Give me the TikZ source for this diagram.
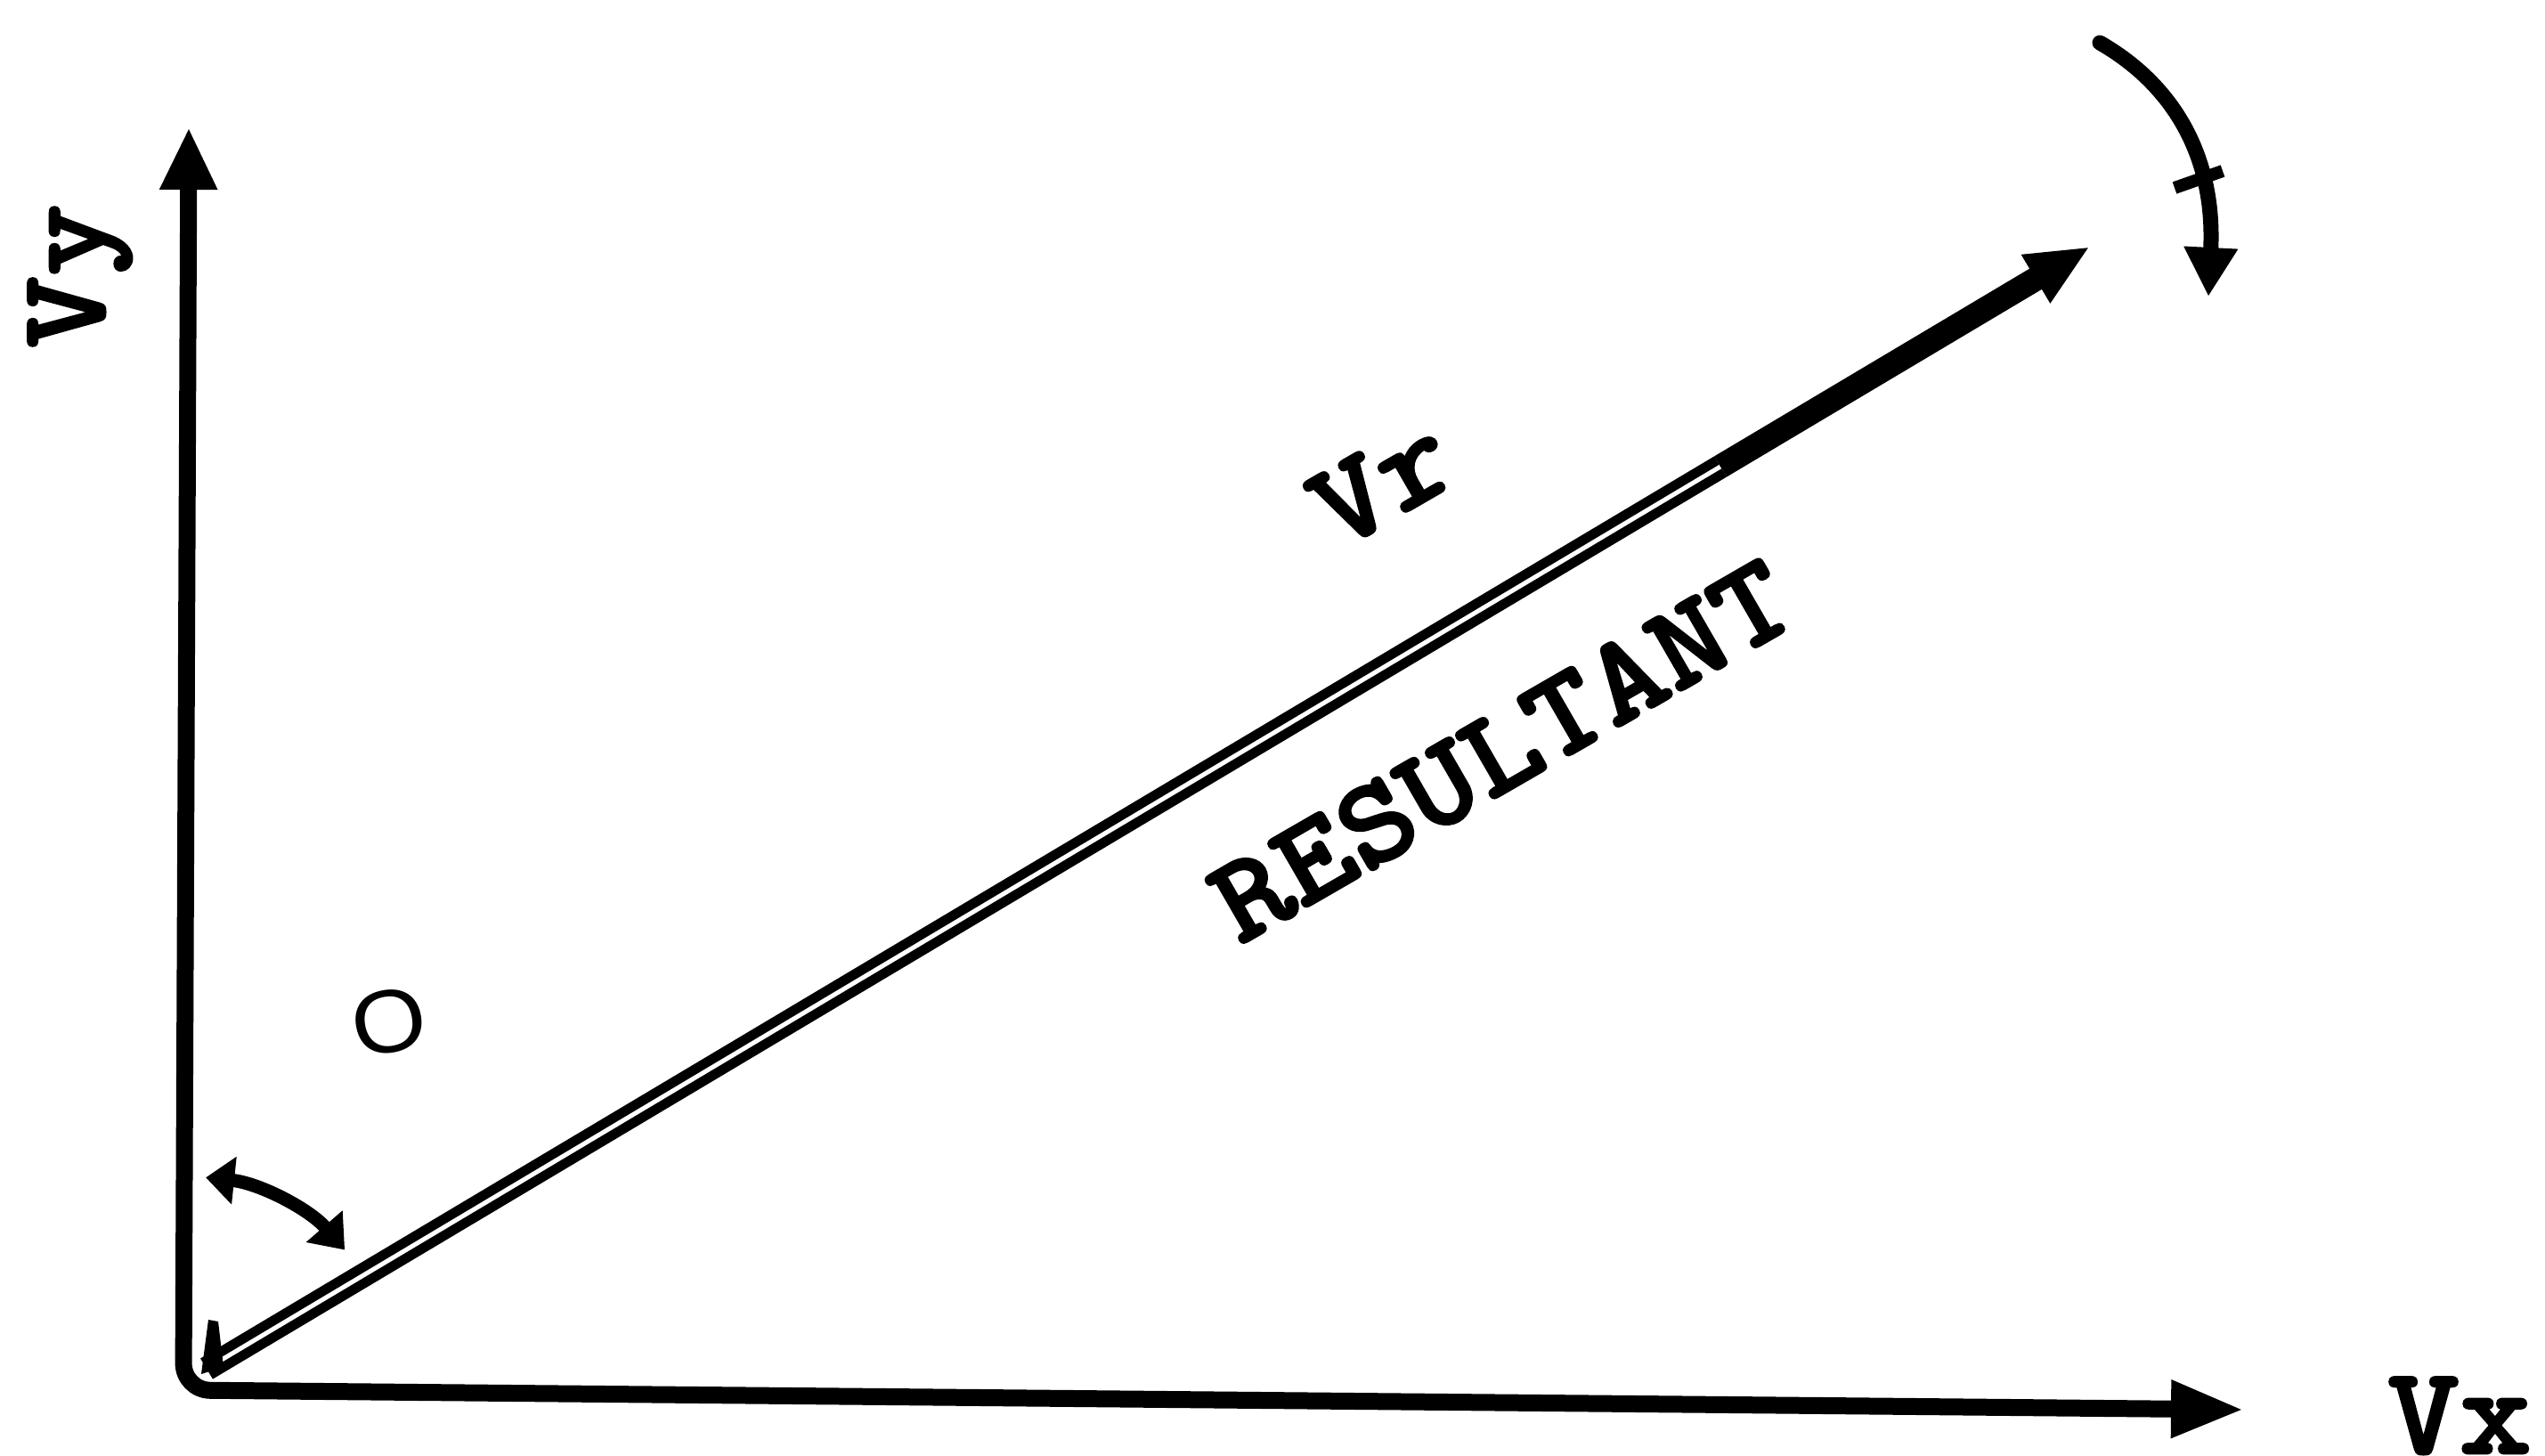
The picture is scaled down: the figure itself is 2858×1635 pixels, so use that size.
\documentclass[tikz,border=0pt]{standalone}
\usepackage{fontspec}
\newfontfamily\twfont{lmmonolt10-bold.otf}[FakeStretch=1.1, FakeBold=2]
\newfontfamily\thfont{Liberation Sans}[FakeStretch=1.08]
\usetikzlibrary{arrows.meta,calc}
\begin{document}
\begin{tikzpicture}[x=1pt,y=1pt,
  lbl/.style={font=\twfont\fontsize{140}{140}\selectfont, inner sep=0pt},
  axisline/.style={line width=19, rounded corners=30},
  thinarc/.style={line width=15},
  bigarc/.style={line width=17, line cap=round}]
\useasboundingbox (0,0) rectangle (2858,1635);
% axes
\coordinate (O) at (206,74);
\coordinate (ytip) at (212,1492);
\coordinate (xtip) at (2520,52);
\draw[axisline, {Triangle[length=70pt,width=60pt]}-{Triangle[length=82pt,width=60pt]}] (ytip) -- (O) -- (xtip);
% resultant
\coordinate (rs) at (232,98);
\coordinate (rm) at (1932,1111);
\coordinate (rt) at (2347,1358);
\draw[line width=11, double=white, double distance=5] (rs) -- (rm);
\draw[line width=27, -{Triangle[length=71pt,width=58pt]}] (rm) -- (rt);
\fill (226,92) -- (234,153) -- (245,151) -- (251,100) -- cycle;
% small angle arc
\coordinate (a1) at ($(O)+(84:240)$);
\draw[thinarc, {Triangle[length=32pt,width=52pt]}-{Triangle[length=35pt,width=52pt]}] (a1) arc[start angle=84, end angle=41, radius=240];
% top right arc
\coordinate (c0) at (2358,1587);
\coordinate (c3) at (2480,1302);
\draw[bigarc, -{Triangle[length=55pt,width=57pt]}] (c0) .. controls (2440,1540) and (2488,1460) .. (c3);
\coordinate (b0) at (2442,1424);
\coordinate (b1) at (2496,1443);
\draw[line width=14] (b0) -- (b1);
% labels
\node[lbl, rotate=90, anchor=base] (vy) at (117,1325) {Vy};
\node[lbl, anchor=base] (vx) at (2762,3) {Vx};
\node[lbl, rotate=30] (vr) at (1552,1093) {Vr};
\node[lbl, rotate=30] (res) at (1686,792) {RESULTANT};
\node[font=\thfont\fontsize{100}{100}\selectfont, inner sep=0pt, rotate=10] (theta) at (437,488) {O};
\end{tikzpicture}
\end{document}
